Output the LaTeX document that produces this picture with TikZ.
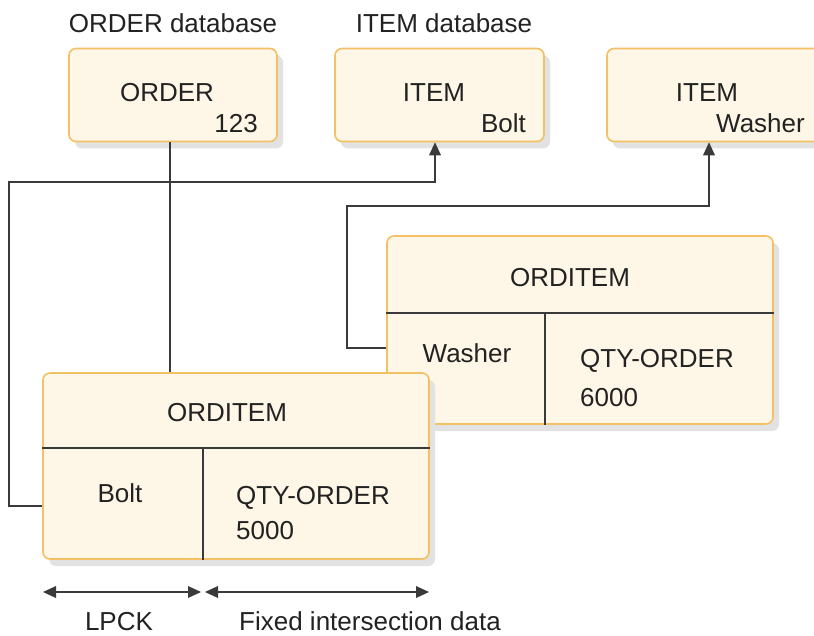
\documentclass[tikz,border=0pt]{standalone}
\usepackage{fontspec}
\setmainfont{Liberation Sans}
\usetikzlibrary{arrows.meta,shadows}
\definecolor{boxfill}{HTML}{FEF6E6}
\definecolor{boxline}{HTML}{F4C064}
\definecolor{inkc}{HTML}{222222}
\definecolor{linec}{HTML}{3A3A3A}
\definecolor{shadowc}{HTML}{E2E2E2}
\begin{document}
\begin{tikzpicture}[x=1pt,y=-1pt,
  rec/.style={draw=boxline,line width=1.6pt,fill=boxfill,rounded corners=7pt,
    inner sep=0pt,
    drop shadow={shadow xshift=6pt,shadow yshift=-7pt,fill=shadowc,opacity=1}},
  lbl/.style={inner sep=0pt,anchor=base,text=inkc,font=\fontsize{26}{30}\selectfont},
  lblr/.style={lbl,anchor=base east},
  lbll/.style={lbl,anchor=base west},
  conn/.style={draw=linec,line width=1.4pt},
  endarrow/.style={-{Triangle[length=13pt,width=12pt,line width=0pt]}},
  bothends/.style={{Triangle[length=13pt,width=12pt,line width=0pt]}-{Triangle[length=13pt,width=12pt,line width=0pt]}}]
\clip (0,0) rectangle (814,636);
\fill[white] (0,0) rectangle (814,636);

% top boxes
\node[rec,minimum width=208pt,minimum height=93pt] (order) at (173,95) {};
\node[rec,minimum width=209pt,minimum height=93pt] (itemb) at (439.5,95) {};
\node[rec,minimum width=214pt,minimum height=93pt] (itemw) at (714,95) {};

\node[lbl] (orderdb) at (173,32.5) {ORDER database};
\node[lbl] (itemdb) at (444,32.5) {ITEM database};
\node[lbl] (ordert) at (167,101.5) {ORDER};
\node[lblr] (ordern) at (258,132.5) {123};
\node[lbl] (itembt) at (434,101.5) {ITEM};
\node[lblr] (itembn) at (526,132.5) {Bolt};
\node[lbl] (itemwt) at (707,101.5) {ITEM};
\node[lblr] (itemwn) at (805,132.5) {Washer};

% coordinates for connectors
\coordinate (c1) at (9,182);
\coordinate (c2) at (9,506);
\coordinate (c3) at (347,206);
\coordinate (c4) at (347,348);
\coordinate (c5) at (709,206);
\coordinate (c6) at (435,182);

% upper ORDITEM
\node[rec,minimum width=386pt,minimum height=188pt] (oiw) at (580,330) {};
\draw[conn,line width=1.2pt] (oiw.west |- 0,313) -- (oiw.east |- 0,313);
\draw[conn,line width=1.2pt] (545,313) coordinate (oiwv) -- (oiw.south -| oiwv);
\node[lbl] (oiwt) at (570,286.5) {ORDITEM};
\node[lbl] (oiwk) at (467,362.5) {Washer};
\node[lbll] (oiwq) at (580,367.5) {QTY-ORDER};
\node[lbll] (oiwn) at (580,406.5) {6000};

% connectors behind lower box
\draw[conn] (order.south -| 170,0) -- (170,373);
\draw[conn,endarrow] (oiw.west |- c4) -- (c4) -- (c3) -- (c5) -- (itemw.south -| c5);

% lower ORDITEM
\node[rec,minimum width=386pt,minimum height=186pt] (oib) at (236,466) {};
\draw[conn,line width=1.2pt] (oib.west |- 0,448) -- (oib.east |- 0,448);
\draw[conn,line width=1.2pt] (203,448) coordinate (oibv) -- (oib.south -| oibv);
\node[lbl] (oibt) at (227,421.5) {ORDITEM};
\node[lbl] (oibk) at (120,502.5) {Bolt};
\node[lbll] (oibq) at (236,504.5) {QTY-ORDER};
\node[lbll] (oibn) at (236,539.5) {5000};

\draw[conn,endarrow] (oib.west |- c2) -- (c2) -- (c1) -- (c6) -- (itemb.south -| c6);

% dimension arrows
\coordinate (d1) at (43,592);
\coordinate (d2) at (201,592);
\coordinate (d3) at (205,592);
\coordinate (d4) at (429,592);
\draw[conn,bothends] (d1) -- (d2);
\draw[conn,bothends] (d3) -- (d4);
\node[lbl] (lpck) at (119,630) {LPCK};
\node[lbl] (fixed) at (370,630) {Fixed intersection data};
\end{tikzpicture}
\end{document}
